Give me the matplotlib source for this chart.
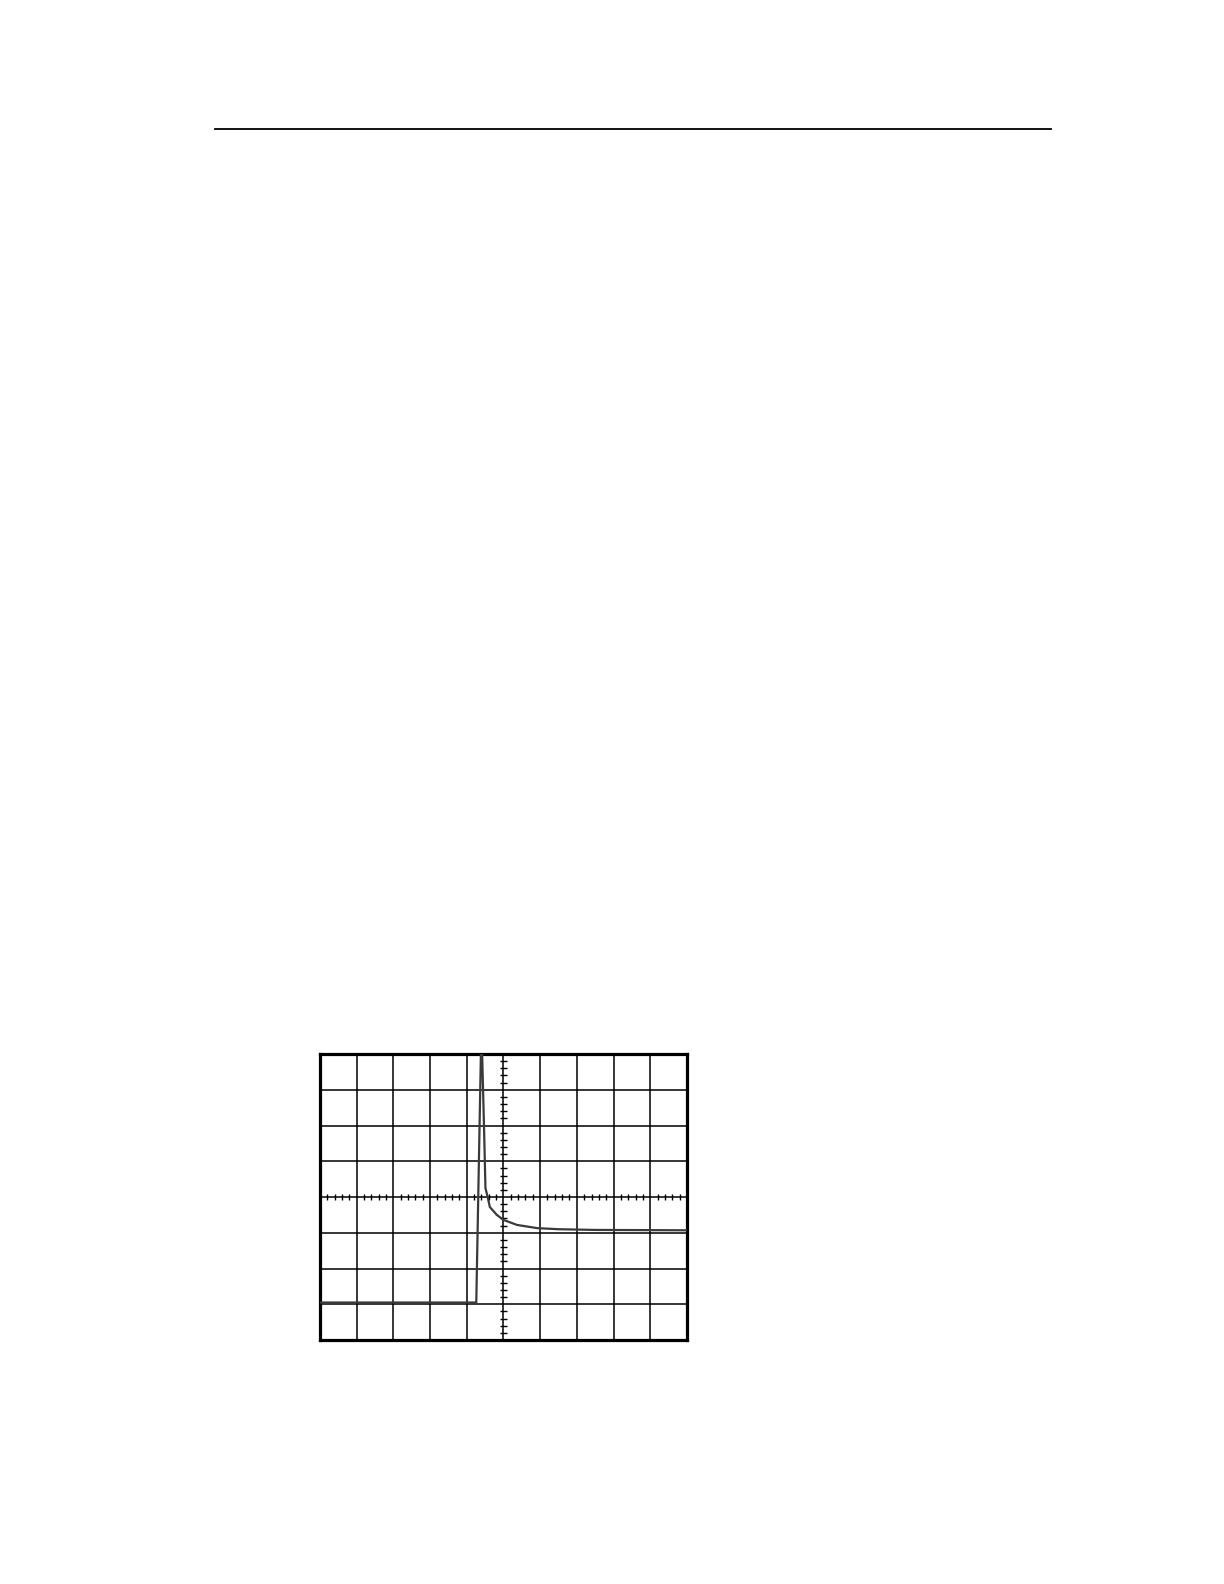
import matplotlib
matplotlib.use('Agg')
import matplotlib.pyplot as plt

# trace, in divisions (10 x 8 graticule, centre = 0,0)
trace_x = [-5.0, -0.74, -0.605, -0.58, -0.53, -0.49, -0.43, -0.37, -0.18, 0.0, 0.37, 0.92, 1.5, 2.5, 5.0]
trace_y = [-2.95, -2.95, 4.5, 4.0, 2.0, 0.25, 0.0, -0.28, -0.5, -0.64, -0.78, -0.87, -0.9, -0.92, -0.93]

n_xdiv = 10
n_ydiv = 8

fig = plt.figure(figsize=(12.24, 15.84), dpi=100)

# rule at the top of the page
fig.add_artist(plt.Line2D([0.1757, 0.8587], [0.9186, 0.9186], color='black', lw=1.3))

ax = fig.add_axes([0.2614, 0.1540, 0.2998, 0.1806])
ax.set_xlim(-n_xdiv / 2, n_xdiv / 2)
ax.set_ylim(-n_ydiv / 2, n_ydiv / 2)
ax.set_xticks([])
ax.set_yticks([])
for s in ax.spines.values():
    s.set_linewidth(2.3)
    s.set_color('black')

# graticule
for gx in range(-n_xdiv // 2 + 1, n_xdiv // 2):
    ax.axvline(gx, color='black', lw=1.1, zorder=1)
for gy in range(-n_ydiv // 2 + 1, n_ydiv // 2):
    ax.axhline(gy, color='black', lw=1.1, zorder=1)

# small ticks on the centre lines, 5 per division
xt = [i / 5 for i in range(-n_xdiv * 5 // 2 + 1, n_xdiv * 5 // 2) if i % 5 != 0]
yt = [i / 5 for i in range(-n_ydiv * 5 // 2 + 1, n_ydiv * 5 // 2) if i % 5 != 0]
ax.vlines(xt, -0.09, 0.09, color='black', lw=1.0, zorder=1)
ax.hlines(yt, -0.09, 0.09, color='black', lw=1.0, zorder=1)

ax.plot(trace_x, trace_y, color='#3a3a3a', lw=1.6, zorder=3)

fig.savefig('out.png', dpi=100)
